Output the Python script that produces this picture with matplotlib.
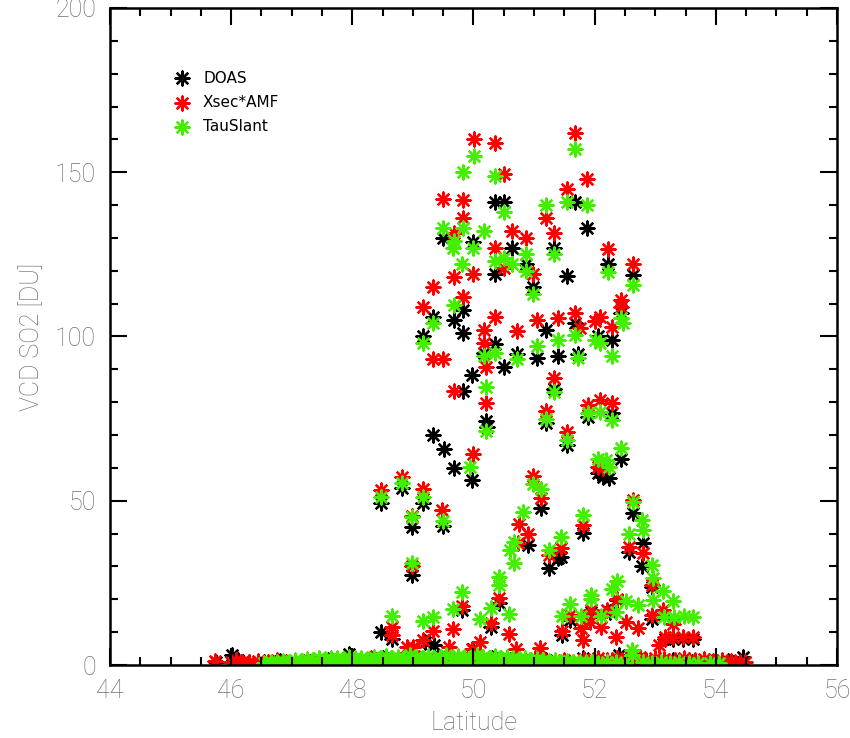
import matplotlib
matplotlib.use("Agg")
import matplotlib.pyplot as plt
from matplotlib.ticker import MultipleLocator

# DOAS (black)
doas_lat = [48.47, 48.65, 48.82, 48.99, 48.99, 49.17, 49.17, 49.33, 49.33, 49.50,
            49.50, 49.52, 49.68, 49.68, 49.83, 49.83, 49.83, 49.99, 49.97, 49.97,
            50.17, 50.20, 50.23, 50.36, 50.36, 50.36, 50.50, 50.50, 50.64, 50.72,
            50.87, 50.98, 51.05, 51.20, 51.33, 51.40, 51.54, 51.68, 51.68, 51.73,
            51.87, 52.06, 52.29, 52.22, 52.44, 52.63,
            51.33, 51.20, 51.54, 51.89, 52.06, 52.14, 52.24, 52.29, 52.44, 52.63,
            52.80, 51.11, 50.90, 51.81, 51.44, 51.25, 51.40, 52.57, 52.78,
            49.81, 50.29, 50.42, 51.59, 51.46, 51.94, 52.37, 52.25, 52.95, 52.95,
            53.16, 53.30, 53.46, 53.62, 48.47, 49.20, 49.35, 50.00]
doas_val = [49.3, 7.9, 54.0, 42.0, 27.4, 49.3, 100.0, 106.0, 70.0, 42.3,
            130.0, 65.8, 105.0, 60.0, 108.0, 101.0, 83.4, 128.8, 88.3, 56.3,
            95.0, 74.3, 72.5, 141.0, 97.7, 119.0, 141.0, 90.7, 127.0, 94.6,
            122.0, 115.0, 93.5, 102.0, 127.0, 94.0, 118.4, 141.0, 104.0, 94.6,
            133.0, 100.0, 99.0, 122.0, 107.0, 118.7,
            84.0, 73.7, 67.0, 75.5, 58.4, 57.3, 57.0, 76.7, 62.7, 46.3,
            37.0, 47.8, 36.5, 40.3, 33.0, 29.5, 32.6, 34.4, 30.0,
            16.7, 11.6, 18.9, 13.7, 9.0, 16.0, 19.7, 16.0, 23.6, 14.0,
            8.0, 8.0, 8.0, 8.0, 10.0, 7.0, 6.0, 5.0]

# Xsec*AMF (red)
xsec_lat = [50.01, 50.36, 50.50, 49.50, 49.83, 49.83, 49.68, 50.64, 50.87, 50.36,
            50.50, 49.68, 49.99, 50.98, 49.33, 49.83, 49.17, 50.36, 51.05, 50.17,
            50.72, 50.17, 49.33, 49.50, 50.20, 49.68, 50.20, 49.99,
            51.68, 51.87, 51.54, 51.20, 51.33, 52.22, 52.63, 52.44, 52.44, 51.40,
            51.68, 51.76, 52.01, 52.09, 52.29,
            48.47, 48.82, 48.99, 49.17, 49.48, 50.98, 50.90, 50.75, 50.74, 51.33,
            51.89, 52.09, 52.29, 51.20, 51.54, 52.06, 52.14, 51.11, 52.63, 51.81,
            51.44, 52.57, 51.25, 52.80, 48.99,
            48.65, 48.65, 49.17, 49.33, 49.66, 49.81, 50.29, 50.42, 50.59, 48.90,
            49.00, 49.60, 49.98, 50.11, 50.70, 51.59, 51.46, 51.78, 51.80, 51.94,
            51.92, 52.11, 52.37, 52.21, 52.52, 52.35, 52.72, 52.95, 52.95, 53.13,
            53.30, 53.06, 53.16, 53.30, 53.46, 53.62, 51.10]
xsec_val = [160.0, 159.0, 149.5, 142.0, 141.5, 136.0, 131.5, 132.0, 130.0, 127.0,
            121.0, 118.0, 119.0, 119.0, 115.0, 112.0, 109.0, 106.0, 105.0, 102.0,
            101.7, 98.0, 93.0, 93.0, 90.7, 83.4, 79.7, 64.2,
            162.0, 148.0, 145.0, 136.0, 131.5, 126.6, 122.0, 111.0, 109.0, 105.6,
            107.0, 102.6, 104.7, 106.0, 103.0,
            53.3, 57.3, 45.4, 53.6, 47.2, 57.5, 40.0, 43.0, 37.0, 87.4,
            79.0, 80.7, 79.8, 77.3, 71.0, 60.3, 60.0, 50.8, 50.2, 42.6,
            35.6, 36.0, 33.5, 34.0, 30.0,
            11.6, 9.0, 7.6, 10.4, 11.0, 18.0, 12.8, 20.4, 9.4, 5.5,
            5.5, 5.5, 5.0, 7.0, 5.0, 15.2, 10.4, 11.2, 7.6, 16.7,
            13.0, 11.6, 20.0, 16.7, 13.0, 8.5, 11.3, 24.4, 15.2, 16.7,
            12.5, 6.0, 8.5, 8.5, 8.5, 8.5, 5.2]

# TauSlant (green)
tau_lat = [50.01, 49.83, 50.36, 50.50, 49.50, 49.83, 49.68, 50.17, 49.99, 49.66,
           50.64, 50.50, 50.87, 50.87, 49.81, 50.36, 50.98, 49.68, 49.33, 49.17,
           50.36, 51.05, 50.17, 50.72, 50.20, 50.20, 49.94,
           51.68, 51.20, 51.54, 51.87, 51.33, 52.22, 52.63, 52.44, 52.47, 51.40,
           51.68, 52.01, 52.09, 51.73, 52.29,
           48.47, 48.82, 48.99, 49.17, 49.50, 48.99, 50.98, 50.82, 50.67, 51.33,
           51.89, 52.09, 52.29, 51.20, 51.54, 52.44, 52.06, 52.19, 52.24, 51.11,
           52.63, 52.78, 52.80, 51.81, 51.44, 52.57, 51.25, 52.95,
           48.65, 49.17, 49.33, 49.81, 49.66, 50.10, 50.29, 50.42, 50.42, 50.59,
           50.60, 50.67, 51.59, 51.46, 51.78, 51.94, 51.94, 52.11, 52.29, 52.37,
           52.51, 52.35, 52.72, 52.97, 52.97, 53.13, 53.15, 53.29, 53.31, 53.47,
           53.62, 52.62]
tau_val = [155.0, 150.0, 149.0, 138.0, 133.0, 133.0, 129.0, 132.0, 127.0, 127.0,
           122.0, 124.0, 125.0, 120.0, 122.0, 123.0, 113.0, 109.6, 104.0, 98.0,
           95.0, 97.0, 94.0, 93.0, 84.6, 71.3, 60.3,
           157.0, 140.0, 141.0, 140.0, 125.0, 119.7, 115.7, 105.6, 104.0, 99.0,
           100.5, 99.0, 98.0, 93.5, 94.0,
           51.0, 55.5, 45.0, 51.0, 43.8, 31.0, 55.0, 46.6, 37.4, 83.0,
           76.7, 77.0, 74.6, 74.9, 68.5, 66.0, 62.7, 62.4, 60.3, 53.6,
           49.7, 44.0, 41.0, 45.6, 39.0, 40.0, 35.0, 30.4,
           15.0, 13.4, 14.6, 22.2, 17.0, 14.0, 17.4, 26.8, 24.4, 15.5,
           35.0, 31.0, 18.6, 15.0, 15.0, 21.3, 20.0, 15.0, 23.0, 25.6,
           19.5, 16.0, 18.3, 26.5, 19.8, 22.5, 14.6, 19.5, 14.6, 15.0,
           14.6, 4.5]

# near-zero band
doas_base_lat = [45.75, 46.02, 46.12, 46.30, 46.55, 46.80, 47.05, 47.30, 47.60, 47.95,
                 48.20, 48.50, 48.80, 49.10, 49.40, 49.70, 50.00, 50.30, 50.60, 50.90,
                 51.20, 51.50, 51.80, 52.10, 52.40, 52.70, 53.00, 53.30, 53.60, 53.90,
                 54.20, 54.45]
doas_base_val = [1.0, 3.0, 1.5, 1.0, 0.8, 1.2, 1.0, 0.8, 1.5, 3.5,
                 1.0, 2.0, 1.5, 1.0, 2.0, 1.5, 1.0, 2.0, 1.5, 1.0,
                 1.5, 1.0, 2.0, 1.0, 3.0, 1.5, 1.0, 1.5, 1.0, 1.0,
                 1.2, 2.5]
xsec_base_lat = [45.73, 46.00, 46.08, 46.18, 46.30, 46.45, 46.60, 46.75, 46.90, 47.05,
                 47.20, 47.35, 47.50, 47.68, 47.82, 47.98, 48.15, 48.30, 48.45, 48.62,
                 48.78, 48.95, 49.10, 49.25, 49.42, 49.58, 49.72, 49.90, 50.05, 50.22,
                 50.38, 50.55, 50.70, 50.88, 51.02, 51.18, 51.35, 51.50, 51.65, 51.82,
                 51.98, 52.12, 52.28, 52.45, 52.60, 52.75, 52.92, 53.08, 53.22, 53.40,
                 53.55, 53.72, 53.88, 54.02, 54.18, 54.32, 54.48,
                 52.05, 52.20, 52.37, 52.52, 52.68, 52.85, 53.00, 53.15, 53.32, 53.48,
                 53.65, 53.80, 53.95, 54.10, 54.25, 54.40]
xsec_base_val = [1.2, 1.0, 1.5, 1.0, 0.8, 1.2, 1.0, 1.5, 0.8, 1.2,
                 1.0, 1.5, 0.8, 1.2, 1.0, 1.5, 1.0, 2.0, 1.2, 1.0,
                 1.5, 1.0, 2.0, 1.0, 1.5, 1.2, 1.0, 1.8, 1.0, 1.5,
                 1.2, 1.0, 1.5, 1.0, 2.0, 1.2, 1.0, 1.5, 1.0, 1.8,
                 1.2, 1.0, 1.5, 1.2, 1.0, 2.5, 1.0, 1.5, 1.2, 1.0,
                 1.5, 1.0, 1.2, 1.0, 0.8, 1.0, 0.8,
                 2.0, 1.5, 2.2, 1.8, 2.0, 1.5, 2.2, 1.8, 1.5, 2.0,
                 1.5, 1.8, 1.2, 1.5, 1.2, 1.0]
tau_base_lat = [46.55, 46.65, 46.75, 46.85, 46.95, 47.05, 47.15, 47.25, 47.35, 47.45,
                47.55, 47.65, 47.75, 47.85, 47.95, 48.05, 48.15, 48.25, 48.35, 48.45,
                48.55, 48.65, 48.75, 48.85, 48.95, 49.05, 49.15, 49.25, 49.35, 49.45,
                49.55, 49.65, 49.75, 49.85, 49.95, 50.05, 50.15, 50.25, 50.35, 50.45,
                50.55, 50.65, 50.75, 50.85, 50.95, 51.05, 51.15, 51.25, 51.35, 51.45,
                51.55, 51.65, 51.75, 51.85, 51.95, 52.05, 52.20, 52.35, 52.50, 52.62,
                52.80, 52.95, 53.10, 53.25, 53.40, 53.55, 53.70, 53.90, 54.05,
                46.70, 46.90, 47.10, 47.30, 47.50, 47.70, 47.90, 48.10, 48.30, 48.50,
                48.70, 48.90, 49.10, 49.30, 49.50, 49.70, 49.90, 50.10, 50.30, 50.50,
                50.70, 50.90, 51.10, 51.30, 51.50]
tau_base_val = [0.5, 0.8, 1.0, 1.2, 1.0, 1.5, 1.2, 1.8, 1.5, 2.0,
                1.8, 2.2, 2.0, 1.8, 2.5, 2.0, 2.2, 1.8, 2.5, 2.0,
                2.8, 2.2, 2.5, 2.0, 3.0, 2.5, 2.2, 2.8, 2.0, 2.5,
                3.0, 2.2, 2.8, 2.5, 2.0, 3.0, 2.5, 2.2, 2.8, 2.0,
                2.5, 2.2, 1.8, 2.0, 1.5, 1.8, 1.5, 1.2, 1.5, 1.0,
                1.2, 1.0, 0.8, 1.0, 0.8, 0.5, 1.0, 0.8, 0.5, 3.0,
                0.8, 0.5, 0.8, 0.5, 0.8, 0.5, 0.5, 0.5, 0.5,
                0.3, 0.5, 0.4, 0.6, 0.5, 0.7, 0.6, 0.8, 0.6, 0.7,
                0.8, 0.6, 0.9, 0.7, 0.8, 0.6, 0.8, 0.7, 0.6, 0.8,
                0.6, 0.5, 0.6, 0.4, 0.5]

label_col = '#707070'
label_font = ['Roboto', 'DejaVu Sans']
star = (8, 2, 0)

fig = plt.figure(figsize=(8.5, 7.38), dpi=100)
ax = fig.add_axes([0.1294, 0.0989, 0.8553, 0.8903])

series = [
    ('DOAS', 'black', doas_base_lat + doas_lat, doas_base_val + doas_val),
    ('Xsec*AMF', '#ff0000', xsec_base_lat + xsec_lat, xsec_base_val + xsec_val),
    ('TauSlant', '#44ee00', tau_base_lat + tau_lat, tau_base_val + tau_val),
]
for name, col, lat, val in series:
    ax.scatter(lat, val, marker=star, s=100, color=col, linewidths=1.7)

ax.set_xlim(44, 56)
ax.set_ylim(0, 200)
ax.xaxis.set_major_locator(MultipleLocator(2))
ax.xaxis.set_minor_locator(MultipleLocator(0.5))
ax.yaxis.set_major_locator(MultipleLocator(50))
ax.yaxis.set_minor_locator(MultipleLocator(10))
ax.tick_params(which='both', direction='in', top=True, right=True, width=1.5,
               colors='black', labelcolor=label_col, labelsize=18, pad=10)
ax.tick_params(which='major', length=12)
ax.tick_params(which='minor', length=6)
for sp in ax.spines.values():
    sp.set_linewidth(1.8)
for lbl in ax.get_xticklabels() + ax.get_yticklabels():
    lbl.set_family(label_font)
    lbl.set_fontweight('light')

ax.set_xlabel('Latitude', fontsize=18, color=label_col, family=label_font,
              fontweight='light', labelpad=6)
ax.set_ylabel('VCD SO2 [DU]', fontsize=18, color=label_col, family=label_font,
              fontweight='light', labelpad=8)

# legend drawn as marker + text in axes coordinates
for i, (name, col, lat, val) in enumerate(series):
    y = 0.893 - i * 0.037
    ax.scatter([0.099], [y], transform=ax.transAxes, marker=star, s=100,
               color=col, linewidths=1.7, clip_on=False)
    ax.text(0.128, y, name, transform=ax.transAxes, fontsize=11,
            va='center', ha='left', color='black')

fig.savefig('out.png', dpi=100)
